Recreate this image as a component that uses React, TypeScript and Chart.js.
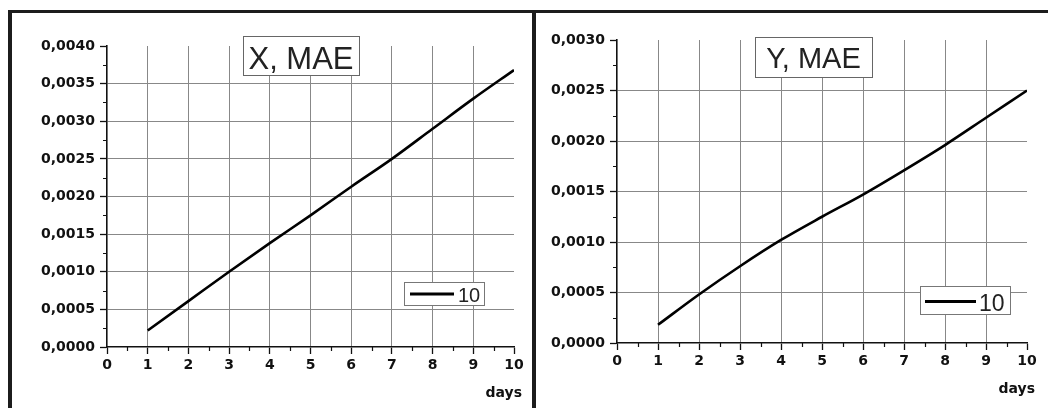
import React, { useEffect, useRef } from "react";
import { Chart, registerables } from "chart.js";

Chart.register(...registerables);

// ---- data ----
const DAYS = [1, 2, 3, 4, 5, 6, 7, 8, 9, 10];
const X_MAE = [0.00022, 0.00061, 0.001, 0.00138, 0.00175, 0.00213, 0.0025, 0.0029, 0.0033, 0.00368];
const Y_MAE = [0.00018, 0.00048, 0.00076, 0.00102, 0.00125, 0.00147, 0.00171, 0.00196, 0.00223, 0.0025];
const SERIES_LABEL = "10";
const X_AXIS_TITLE = "days";
const LEFT_TITLE = "X, MAE";
const RIGHT_TITLE = "Y, MAE";
const X_MIN = 0;
const X_MAX = 10;
const X_STEP = 1;
const LEFT_Y_MAX = 0.004;
const RIGHT_Y_MAX = 0.003;
const Y_STEP = 0.0005;

const fmtY = (v: number) => v.toFixed(4).replace(".", ",");

const TICK_FONT = { family: "'DejaVu Sans', sans-serif", weight: "bold" as const, size: 14 };
const GRID = "#888";
const AXIS = "#111";

type Cfg = {
  title: string;
  values: number[];
  yMax: number;
  left: number;
  top: number;
  width: number;
  height: number;
  yAxisW: number;
  xAxisH: number;
  padTop: number;
  padRight: number;
  titleBox: { x: number; y: number; w: number; h: number; size: number; base: number };
  legendBox: { x: number; y: number; w: number; h: number; lx1: number; lx2: number; ly: number; tx: number; ty: number; size: number };
};

function MaeChart({ cfg }: { cfg: Cfg }) {
  const ref = useRef<HTMLCanvasElement | null>(null);
  useEffect(() => {
    if (!ref.current) return;
    const near = (a: number, b: number) => Math.abs(a - b) < 1e-9;
    const deco = {
      id: "deco",
      afterDraw(chart: any) {
        const ctx = chart.ctx as CanvasRenderingContext2D;
        const xs = chart.scales.x;
        const ys = chart.scales.y;
        const area = chart.chartArea;
        ctx.save();
        // minor ticks
        ctx.strokeStyle = AXIS;
        ctx.lineWidth = 1.2;
        ctx.beginPath();
        for (let v = X_MIN + X_STEP / 2; v < X_MAX; v += X_STEP) {
          const px = Math.round(xs.getPixelForValue(v)) + 0.5;
          ctx.moveTo(px, area.bottom);
          ctx.lineTo(px, area.bottom + 4);
        }
        for (let v = Y_STEP / 2; v < cfg.yMax; v += Y_STEP) {
          const py = Math.round(ys.getPixelForValue(v)) + 0.5;
          ctx.moveTo(area.left - 4, py);
          ctx.lineTo(area.left, py);
        }
        ctx.stroke();

        // axis title
        ctx.fillStyle = AXIS;
        ctx.font = "bold 14px 'DejaVu Sans', sans-serif";
        ctx.textAlign = "right";
        ctx.textBaseline = "alphabetic";
        ctx.fillText(X_AXIS_TITLE, area.right + 8, area.bottom + 50);

        // title box
        const t = cfg.titleBox;
        ctx.fillStyle = "#fff";
        ctx.fillRect(t.x, t.y, t.w, t.h);
        ctx.strokeStyle = "#666";
        ctx.lineWidth = 1;
        ctx.strokeRect(t.x + 0.5, t.y + 0.5, t.w, t.h);
        ctx.fillStyle = "#222";
        ctx.font = `${t.size}px 'Liberation Sans', Arial, sans-serif`;
        ctx.textAlign = "center";
        ctx.fillText(cfg.title, t.x + t.w / 2, t.y + t.base);

        // legend box
        const l = cfg.legendBox;
        ctx.fillStyle = "#fff";
        ctx.fillRect(l.x, l.y, l.w, l.h);
        ctx.strokeStyle = "#777";
        ctx.strokeRect(l.x + 0.5, l.y + 0.5, l.w, l.h);
        const ds = chart.data.datasets[0];
        ctx.strokeStyle = ds.borderColor;
        ctx.lineWidth = 3;
        ctx.beginPath();
        ctx.moveTo(l.lx1, l.ly);
        ctx.lineTo(l.lx2, l.ly);
        ctx.stroke();
        ctx.fillStyle = "#222";
        ctx.font = `${l.size}px 'Liberation Sans', Arial, sans-serif`;
        ctx.textAlign = "left";
        ctx.fillText(ds.label, l.tx, l.ty);
        ctx.restore();
      },
    };

    const chart = new Chart(ref.current, {
      type: "line",
      data: {
        datasets: [
          {
            label: SERIES_LABEL,
            data: DAYS.map((d, i) => ({ x: d, y: cfg.values[i] })),
            borderColor: "#000",
            borderWidth: 2.6,
            pointRadius: 0,
            cubicInterpolationMode: "monotone",
            fill: false,
          },
        ],
      },
      options: {
        animation: false,
        responsive: false,
        devicePixelRatio: 1,
        layout: { padding: { left: 0, top: cfg.padTop, right: cfg.padRight, bottom: 0 } },
        plugins: { legend: { display: false }, tooltip: { enabled: false }, title: { display: false } },
        events: [],
        scales: {
          x: {
            type: "linear",
            min: X_MIN,
            max: X_MAX,
            ticks: { stepSize: X_STEP, font: TICK_FONT, color: AXIS, padding: 3, maxRotation: 0, autoSkip: false },
            grid: {
              color: (c: any) =>
                c.tick && (near(c.tick.value, X_MIN) || near(c.tick.value, X_MAX)) ? "rgba(0,0,0,0)" : GRID,
              lineWidth: 1,
              tickLength: 7,
              tickColor: AXIS,
              tickWidth: 1.3,
            },
            border: { color: AXIS, width: 1.6 },
            afterFit: (s: any) => {
              s.height = cfg.xAxisH;
            },
          },
          y: {
            type: "linear",
            min: 0,
            max: cfg.yMax,
            ticks: { stepSize: Y_STEP, font: TICK_FONT, color: AXIS, padding: 5, callback: (v: any) => fmtY(Number(v)) },
            grid: {
              color: (c: any) =>
                c.tick && (near(c.tick.value, 0) || near(c.tick.value, cfg.yMax)) ? "rgba(0,0,0,0)" : GRID,
              lineWidth: 1,
              tickLength: 7,
              tickColor: AXIS,
              tickWidth: 1.3,
            },
            border: { color: AXIS, width: 1.6 },
            afterFit: (s: any) => {
              s.width = cfg.yAxisW;
            },
          },
        },
      } as any,
      plugins: [deco],
    });
    return () => chart.destroy();
  }, [cfg]);
  return (
    <canvas
      ref={ref}
      width={cfg.width}
      height={cfg.height}
      style={{ position: "fixed", left: cfg.left, top: cfg.top, width: cfg.width, height: cfg.height }}
    />
  );
}

const LEFT_CFG: Cfg = {
  title: LEFT_TITLE,
  values: X_MAE,
  yMax: LEFT_Y_MAX,
  left: 13,
  top: 13,
  width: 519,
  height: 395,
  yAxisW: 94,
  xAxisH: 61,
  padTop: 33,
  padRight: 18,
  titleBox: { x: 230, y: 23, w: 116, h: 39, size: 31, base: 32.6 },
  legendBox: { x: 391, y: 269, w: 80, h: 23, lx1: 397, lx2: 441, ly: 281, tx: 445, ty: 288.5, size: 20 },
};

const RIGHT_CFG: Cfg = {
  title: RIGHT_TITLE,
  values: Y_MAE,
  yMax: RIGHT_Y_MAX,
  left: 536,
  top: 13,
  width: 512,
  height: 395,
  yAxisW: 81,
  xAxisH: 65,
  padTop: 27,
  padRight: 21,
  titleBox: { x: 219, y: 24, w: 117, h: 40, size: 29, base: 30.5 },
  legendBox: { x: 384, y: 273, w: 90, h: 28, lx1: 389, lx2: 440, ly: 288.5, tx: 443, ty: 298, size: 23 },
};

export default function App() {
  const frame = "#1c1c1c";
  return (
    <div>
      <div style={{ position: "fixed", left: 0, top: 0, width: 1048, height: 408, background: "#fff" }} />
      <MaeChart cfg={LEFT_CFG} />
      <MaeChart cfg={RIGHT_CFG} />
      <div style={{ position: "fixed", left: 8, top: 10, width: 1040, height: 3, background: frame }} />
      <div style={{ position: "fixed", left: 8, top: 10, width: 4, height: 398, background: frame }} />
      <div style={{ position: "fixed", left: 532, top: 10, width: 4, height: 398, background: frame }} />
    </div>
  );
}
